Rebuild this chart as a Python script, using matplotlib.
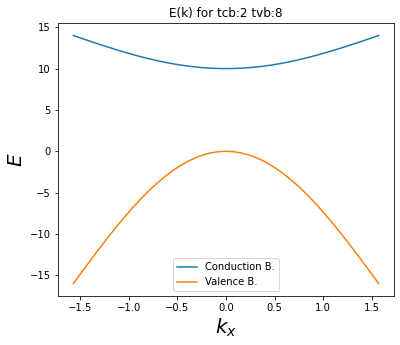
import matplotlib
matplotlib.use("Agg")
import matplotlib.pyplot as plt

k_half = [0.0, 0.0785, 0.1571, 0.2356, 0.3142, 0.3927, 0.4712, 0.5498, 0.6283, 0.7069,
          0.7854, 0.8639, 0.9425, 1.0210, 1.0996, 1.1781, 1.2566, 1.3352, 1.4137, 1.4923, 1.5708]
cond_half = [10.0, 10.012, 10.049, 10.111, 10.196, 10.304, 10.436, 10.589, 10.764, 10.958,
             11.172, 11.402, 11.649, 11.910, 12.184, 12.469, 12.764, 13.066, 13.374, 13.686, 14.0]
val_half = [0.0, -0.049, -0.197, -0.442, -0.783, -1.218, -1.744, -2.358, -3.056, -3.833,
            -4.686, -5.609, -6.595, -7.640, -8.736, -9.877, -11.056, -12.265, -13.497, -14.745, -16.0]

k = [-v for v in k_half[:0:-1]] + k_half
cond = cond_half[:0:-1] + cond_half
val = val_half[:0:-1] + val_half

title = "E(k) for tcb:2 tvb:8"
labels = ["Conduction B.", "Valence B."]

fig = plt.figure(figsize=(400/72, 345/72), dpi=72)
ax = fig.add_axes([0.145, 0.142, 0.84, 0.791])
ax.plot(k, cond, label=labels[0])
ax.plot(k, val, label=labels[1])
ax.set_title(title)
ax.set_xlabel("$k_x$", fontsize=20)
ax.set_ylabel("$E$", fontsize=20)
ax.legend(loc="lower center")
fig.savefig("out.png", dpi=72)
